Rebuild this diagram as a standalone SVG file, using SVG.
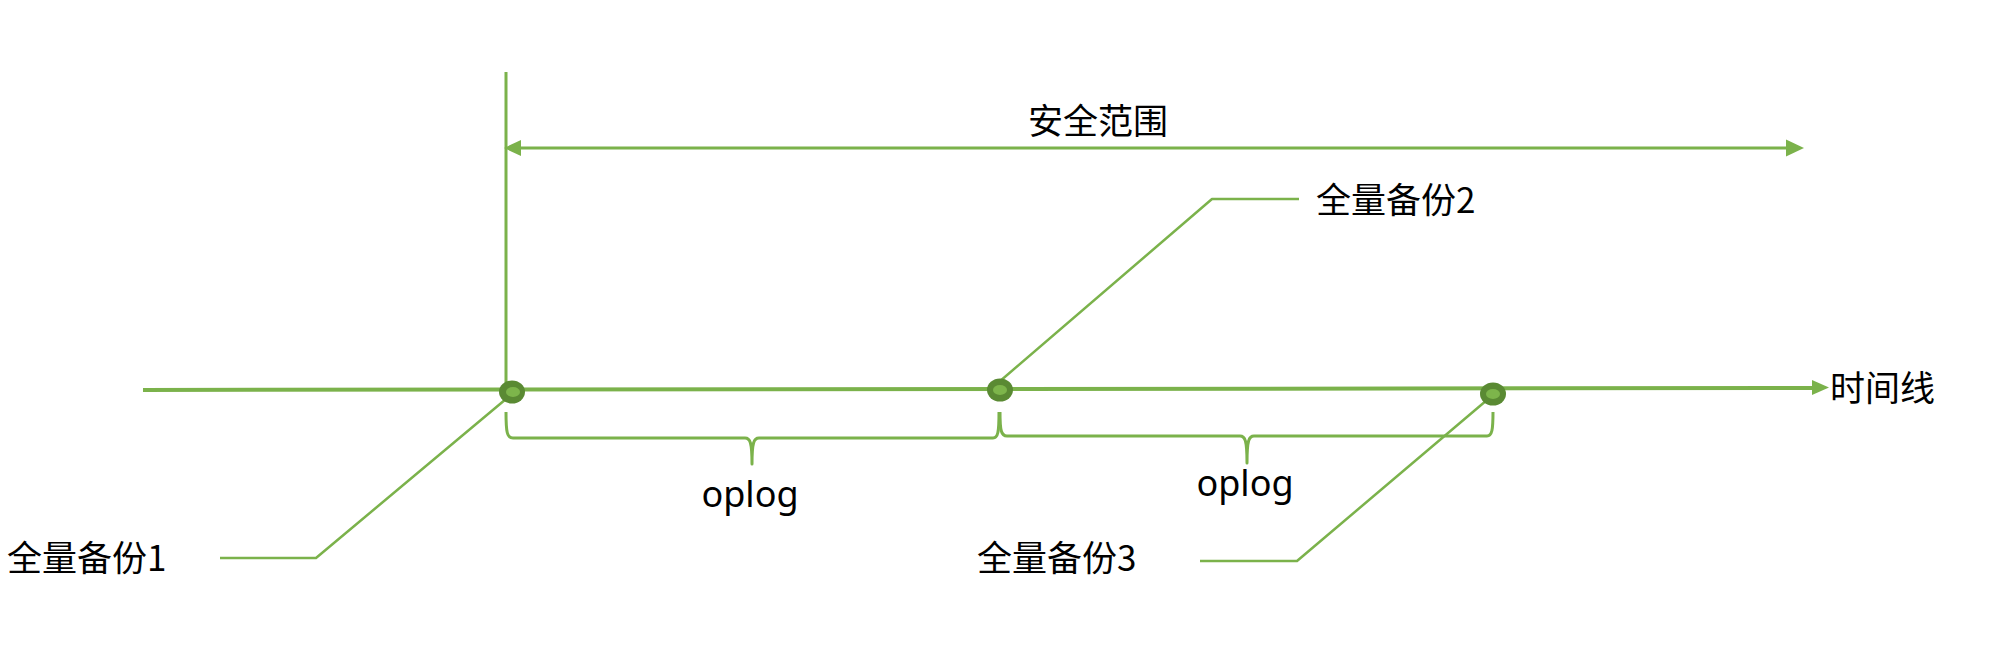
<svg xmlns="http://www.w3.org/2000/svg" width="1990" height="670" viewBox="0 0 1990 670">
<style>
.ln{fill:none;stroke:#7bb24b;stroke-linecap:butt;stroke-linejoin:round}
.ah{fill:#7bb24b;stroke:none}
.t{font-family:"Noto Sans CJK SC","Noto Sans",sans-serif;font-size:35px;fill:#000}
.o{font-family:"Noto Sans","Open Sans",sans-serif;font-size:36px;fill:#000;text-anchor:middle}
.nd{fill:#5a8a33}
.ni{fill:#7db54b}
</style>
<rect width="1990" height="670" fill="#fff"/>
<g id="connectors">
  <line class="ln" x1="506" y1="72" x2="506" y2="390" stroke-width="3"/>
  <line class="ln" x1="520" y1="148" x2="1788" y2="148" stroke-width="3"/>
  <polygon class="ah" points="504,148 521,140 521,156"/>
  <polygon class="ah" points="1804,148 1786,139.5 1786,156.5"/>
  <line class="ln" x1="143" y1="390" x2="1815" y2="388" stroke-width="4"/>
  <polygon class="ah" points="1829,387.5 1812,380 1812,395"/>
  <polyline class="ln" points="999,382 1212,199 1299,199" stroke-width="2.5"/>
  <polyline class="ln" points="506,399 316,558 220,558" stroke-width="2.5"/>
  <polyline class="ln" points="1487,400 1297,561 1200,561" stroke-width="2.5"/>
  <path class="ln" stroke-width="3" d="M506,412 C506,432 507,438 513,438 L745,438 C750,438 752,442 752,464 C752,442 754,438 759,438 L993,438 C998,438 999,432 999,412"/>
  <path class="ln" stroke-width="3" d="M1000,412 C1000,430 1001,436 1007,436 L1240,436 C1245,436 1247,440 1247,463 C1247,440 1249,436 1254,436 L1487,436 C1492,436 1493,430 1493,412"/>
</g>
<g id="node1">
  <ellipse class="nd" cx="512" cy="392" rx="13" ry="11.5"/>
  <ellipse class="ni" cx="513" cy="392" rx="7" ry="5"/>
</g>
<g id="node2">
  <ellipse class="nd" cx="1000" cy="390" rx="13" ry="11.5"/>
  <ellipse class="ni" cx="1000" cy="390" rx="7" ry="5"/>
</g>
<g id="node3">
  <ellipse class="nd" cx="1493" cy="394" rx="13" ry="11.5"/>
  <ellipse class="ni" cx="1493" cy="394" rx="7" ry="5"/>
</g>
<g id="label-safe"><text class="t" x="1028" y="134">安全范围</text></g>
<g id="label-timeline"><text class="t" x="1830" y="401">时间线</text></g>
<g id="label-backup1"><text class="t" x="7" y="571">全量备份1</text></g>
<g id="label-backup2"><text class="t" x="1316" y="213">全量备份2</text></g>
<g id="label-backup3"><text class="t" x="977" y="571">全量备份3</text></g>
<g id="label-oplog1"><text class="o" x="750" y="507">oplog</text></g>
<g id="label-oplog2"><text class="o" x="1245" y="496">oplog</text></g>
</svg>
